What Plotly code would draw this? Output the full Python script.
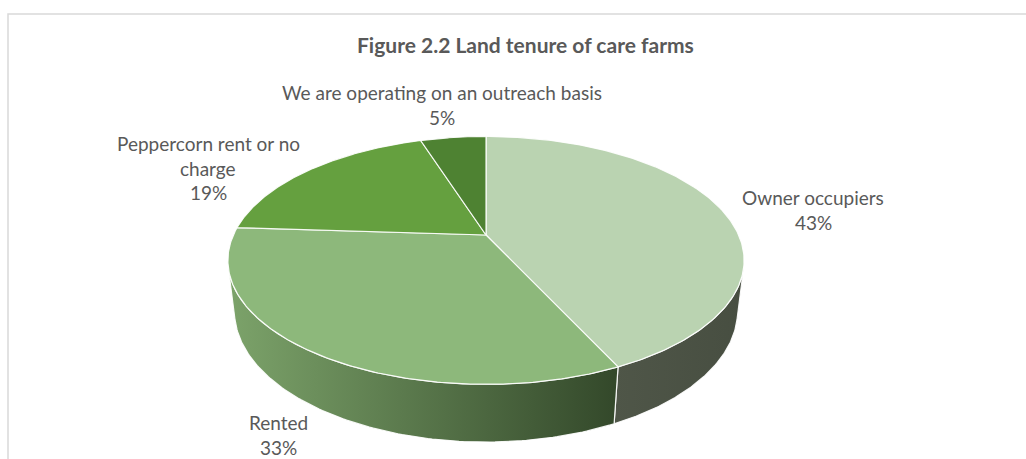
import numpy as np
import plotly.graph_objects as go

# ---- data -------------------------------------------------------------
categories = [
    "Owner occupiers",
    "Rented",
    "Peppercorn rent or no charge",
    "We are operating on an outreach basis",
]
shares = [43, 33, 19, 5]
label_lines = [
    ["Owner occupiers", "43%"],
    ["Rented", "33%"],
    ["Peppercorn rent or no", "charge", "19%"],
    ["We are operating on an outreach basis", "5%"],
]
title_text = "Figure 2.2 Land tenure of care farms"

# ---- styling ----------------------------------------------------------
top_colors = ["#BAD3B1", "#8DB87B", "#65A03F", "#4E8232"]
side_colors = [
    ["#4F5648", "#474E41"],
    ["#7CA36A", "#33482A"],
    ["#5A8F38", "#3E6A27"],
    ["#466F2C", "#34531F"],
]
text_grey = "#595959"
font_family = "Lato, Carlito, 'Open Sans', sans-serif"

# label anchor points (pixel coords relative to the pie centre, y up)
label_anchor = [(327, 25), (-208, -200), (-278, 67), (-44, 130)]
line_gap = 24.5

# ---- 3-D perspective of the pie disc -----------------------------------
SIN_A = 0.47
COS_A = float(np.sqrt(1 - SIN_A ** 2))
DIST = 4.307
FOCAL = 1088.0
THICK = 0.229


def project(phi, height=0.0):
    """Project a rim point (angle clockwise from the far side) to screen."""
    X = np.sin(phi)
    Z = np.cos(phi)
    w = DIST + Z * COS_A - height * SIN_A
    return FOCAL * X / w, FOCAL * (Z * SIN_A + height * COS_A) / w


total = float(sum(shares))
edges = np.concatenate([[0.0], np.cumsum(shares)]) / total * 2 * np.pi

# side wall visible where the outward normal faces the camera
vis_lo = float(np.arccos(-1.0 / (DIST * COS_A)))
vis_hi = 2 * np.pi - vis_lo

fig = go.Figure()

# side walls
for i, cat in enumerate(categories):
    a, b = max(edges[i], vis_lo), min(edges[i + 1], vis_hi)
    if b <= a:
        continue
    phi = np.linspace(a, b, 120)
    tx, ty = project(phi, 0.0)
    bx, by = project(phi[::-1], -THICK)
    xs = np.concatenate([tx, bx, tx[:1]])
    ys = np.concatenate([ty, by, ty[:1]])
    fig.add_trace(go.Scatter(
        x=xs, y=ys, mode="lines", fill="toself",
        fillgradient=dict(type="horizontal",
                          colorscale=[[0, side_colors[i][0]], [1, side_colors[i][1]]]),
        line=dict(color="rgba(255,255,255,0.9)", width=1.2),
        hoverinfo="skip", showlegend=False,
    ))

# top faces
for i, cat in enumerate(categories):
    phi = np.linspace(edges[i], edges[i + 1], 200)
    rx, ry = project(phi, 0.0)
    xs = np.concatenate([[0.0], rx, [0.0]])
    ys = np.concatenate([[0.0], ry, [0.0]])
    fig.add_trace(go.Scatter(
        x=xs, y=ys, mode="lines", fill="toself", fillcolor=top_colors[i],
        line=dict(color="rgba(255,255,255,0.9)", width=1.2),
        name=cat, hoverinfo="name", showlegend=False,
    ))

# data labels
annotations = []
for (ax, ay), lines in zip(label_anchor, label_lines):
    n = len(lines)
    for k, line in enumerate(lines):
        annotations.append(dict(
            x=ax, y=ay + ((n - 1) / 2 - k) * line_gap, xref="x", yref="y",
            text=line, showarrow=False, xanchor="center", yanchor="middle",
            font=dict(family=font_family, size=19, color=text_grey),
        ))

annotations.append(dict(
    x=525 / 1026, y=1 - 45 / 459, xref="paper", yref="paper",
    text="<b>" + title_text + "</b>", showarrow=False,
    xanchor="center", yanchor="middle",
    font=dict(family=font_family, size=21, color=text_grey),
))

fig.update_layout(
    width=1026, height=459,
    margin=dict(l=0, r=0, t=0, b=0),
    paper_bgcolor="white", plot_bgcolor="white",
    xaxis=dict(range=[-486, 540], visible=False, fixedrange=True),
    yaxis=dict(range=[-224, 235], visible=False, fixedrange=True),
    annotations=annotations,
    shapes=[dict(
        type="rect", xref="paper", yref="paper",
        x0=8 / 1026, x1=1.02, y0=-0.02, y1=1 - 14 / 459,
        line=dict(color="#D9D9D9", width=1.5), fillcolor="rgba(0,0,0,0)",
        layer="below",
    )],
)

fig.write_html("out.html")
